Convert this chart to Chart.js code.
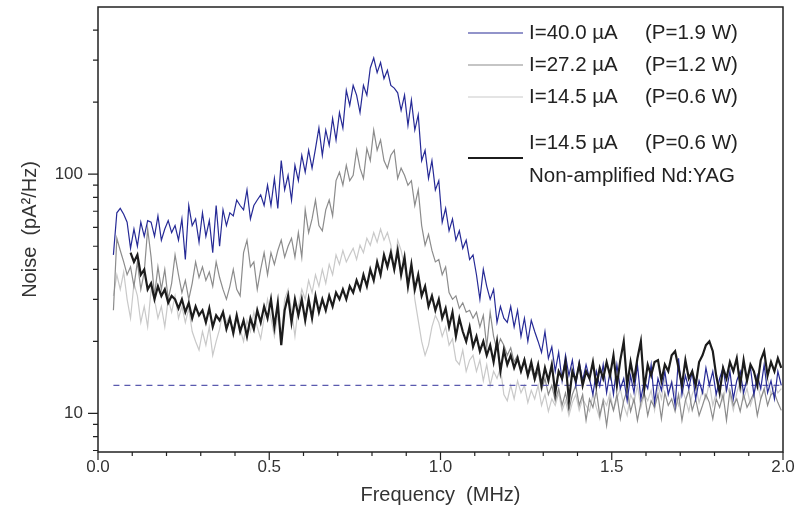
<!DOCTYPE html>
<html>
<head>
<meta charset="utf-8">
<script src="https://cdn.jsdelivr.net/npm/chart.js@4.4.0/dist/chart.umd.min.js"></script>
<style>
  body { margin: 0; background: #fff; }
  #wrap { width: 805px; height: 520px; }
</style>
</head>
<body>
<div id="wrap"><canvas id="c" width="805" height="520"></canvas></div>
<script>
// frequency grid (MHz), one sample every 0.01 MHz
const freq = Array.from({ length: 196 }, (_, i) => +(0.045 + i * 0.01).toFixed(3));

// I = 40.0 uA (P = 1.9 W)
const blue = [
  46, 69, 72, 68, 63, 49, 59, 50, 63, 55,
  64, 63, 55, 67, 53, 59, 64, 57, 61, 53,
  65, 44, 74, 61, 65, 52, 69, 55, 64, 47,
  74, 50, 71, 61, 69, 67, 78, 74, 71, 86,
  65, 74, 78, 82, 74, 90, 74, 96, 72, 114,
  86, 99, 78, 109, 94, 120, 102, 126, 106, 128,
  156, 120, 153, 132, 171, 139, 181, 156, 224, 194,
  235, 214, 181, 235, 214, 278, 306, 266, 293, 251,
  272, 235, 229, 219, 185, 214, 160, 204, 153, 177,
  114, 126, 96, 114, 86, 94, 63, 72, 58, 65,
  53, 58, 49, 53, 44, 46, 38, 30, 40, 34,
  30, 33, 24, 28, 25, 24, 28, 23, 27, 21,
  25, 20, 24.5, 22, 20, 18, 22, 17, 19, 15,
  18, 13.7, 17.5, 14.4, 16.7, 13.1, 16.4, 13.7, 16, 14,
  12, 15, 13, 16, 12.2, 15, 12, 16, 12.7, 14,
  11.3, 14.4, 12.2, 16, 11.5, 13.7, 12.7, 16, 11.1, 14,
  12.5, 15, 12, 13.5, 10.8, 17, 12, 14.4, 12.7, 15,
  11.5, 13.7, 12.2, 15.5, 13.1, 15, 12, 14, 15.5, 12.5,
  15, 11.5, 13.7, 15, 12.2, 14, 15.5, 12, 14.4, 12.7,
  16, 12.2, 13.7, 11.5, 15, 13.1
];

// I = 27.2 uA (P = 1.2 W)
const gray = [
  27, 54, 48, 43, 38, 41, 34, 43, 33, 39,
  59, 45, 31, 41, 33, 40, 30, 35, 46, 38,
  32, 36, 30, 35, 43, 37, 41, 36, 39, 34,
  43, 37, 33, 30, 34, 40, 33, 31, 47, 53,
  41, 43, 33, 40, 47, 38, 47, 42, 48, 53,
  45, 50, 54, 45, 57, 45, 71, 57, 65, 78,
  61, 58, 71, 78, 67, 94, 102, 90, 109, 94,
  99, 126, 106, 96, 128, 114, 153, 126, 139, 114,
  106, 120, 126, 96, 106, 99, 90, 94, 74, 86,
  61, 50.5, 56, 48, 43, 44, 38, 41, 32, 30,
  31, 27.5, 29, 26.5, 27, 25, 26.5, 23, 25.7, 19,
  26.5, 21, 18.4, 20.5, 19.3, 17.5, 18.8, 16.4, 17.5, 15,
  17, 14.4, 15.5, 13.7, 15, 12.5, 14, 12, 13.1, 11.3,
  12.7, 10.8, 12.2, 10.3, 12, 13.1, 10.8, 12, 9.35, 11.5,
  10.6, 12.5, 9.8, 11.3, 8.9, 11.5, 10.3, 12, 9.5, 11.3,
  12.5, 10.2, 11.5, 9.35, 11.1, 12.2, 9.8, 11.3, 10.6, 12,
  9.5, 12.2, 10.8, 11.5, 10.2, 12, 9.35, 11.3, 12.5, 10.3,
  11.5, 9.8, 10.8, 12, 11.1, 9.5, 11.5, 10.6, 12, 9.35,
  12.5, 10.8, 11.5, 10.2, 12, 10.6, 11.3, 12.2, 9.8, 11.5,
  12.7, 10.8, 12, 12.2, 11.1, 10.3
];

// I = 14.5 uA (P = 0.6 W)
const light = [
  31, 38, 33, 39, 30, 25, 35, 31, 24, 28,
  23, 33, 30, 25, 28, 23, 30, 26.5, 31, 25,
  28, 24, 27.5, 22, 20, 18.4, 22, 19.3, 23, 17.5,
  20, 22.5, 27, 24, 25.7, 21, 25, 22.5, 20, 24.5,
  22, 26.5, 23, 20.5, 25, 30, 25, 21, 25.7, 21,
  30, 33, 27, 21, 28, 33, 30, 36, 32, 38,
  34, 40, 35, 42, 38, 46, 42, 48, 43, 46,
  49, 44, 50.5, 47, 54, 50.5, 57, 52, 59, 53,
  57, 50.5, 40, 53, 48, 41, 34, 40, 30, 24.5,
  20, 17.5, 19.3, 23, 25.7, 24, 21, 23, 19.3, 20.5,
  16.7, 16, 18.4, 15, 16.7, 17.5, 15, 16.7, 13.7, 16,
  13.1, 15, 14, 15.5, 12, 11.3, 13.1, 11.5, 13.7, 12.2,
  13.1, 11.1, 12.5, 11.5, 13.1, 10.8, 12, 10.2, 11.5, 10.8,
  12.2, 10.3, 11.3, 9.8, 11.1, 12, 10.3, 11.5, 10.8, 10.2,
  12, 10.6, 9.5, 11.5, 10.8, 12.2, 10.3, 11.5, 12.7, 10.8,
  9.8, 12, 11.1, 13.1, 10.6, 12, 11.3, 12.5, 10.3, 13.1,
  11.5, 14, 12.2, 13.7, 12, 10.8, 12.7, 11.5, 10.2, 12,
  13.1, 11.1, 12.5, 11.5, 13.5, 10.8, 12.2, 12.7, 11.3, 13.1,
  12, 10.3, 12.2, 13.7, 11.5, 12.7, 10.8, 12, 13.5, 11.5,
  12.5, 14, 12, 13.1, 12.2, 12.7
];

// I = 14.5 uA (P = 0.6 W), non-amplified Nd:YAG
const black = [
  null, null, null, null, null, 47, 43, 46, 38, 40,
  33, 35, 30, 34, 31, 33, 29, 31, 30, 27.5,
  30, 26.5, 29, 25, 28, 25.7, 27, 24, 27.5, 23,
  25.7, 24.5, 26.5, 22.5, 25, 21.7, 25.7, 22, 24.5, 21,
  25, 22.5, 27, 24, 28, 25, 30, 23, 29, 19.3,
  27, 31, 24, 30, 25.7, 30, 24.5, 30, 25, 31,
  26.5, 30, 27, 31, 28, 32, 30, 33, 30, 34,
  32, 36, 33, 38, 34, 40, 36, 43, 38, 46,
  41, 47, 40, 48, 38, 45, 34, 42, 33, 38,
  31, 34, 28, 31, 27, 30, 25, 27.5, 23, 26.5,
  21, 25, 22, 20, 23, 19, 21, 18.2, 20, 17.5,
  19.3, 16.4, 20, 15, 18.4, 16, 17.5, 15.5, 17, 15,
  16.7, 14.4, 16.4, 14, 16, 13.1, 15.5, 13.7, 16, 12.2,
  15, 14, 16.4, 11.3, 15, 13.7, 16, 13.1, 15, 14,
  16.4, 13.1, 15.5, 14, 16.4, 14.4, 17.5, 13.1, 16.7, 20,
  13.1, 16.4, 13.7, 17, 20, 12.7, 16, 14.4, 16.4, 16.7,
  13.7, 16, 15, 17.5, 18.2, 15.5, 13.1, 16.7, 14, 15,
  13.1, 16.4, 17.5, 19.3, 20, 18.2, 14.4, 12.2, 15.5, 14,
  16.4, 15, 17, 13.1, 16.7, 13.7, 16, 15, 13.1, 16.7,
  18.2, 14.4, 16.4, 15, 17, 15.5
];

// dashed reference level
const levelFreq = [0.045, 2.0];
const level = [13.1, 13.1];

const xMajor = [0, 0.5, 1.0, 1.5, 2.0];
const xMinor = [0.1, 0.2, 0.3, 0.4, 0.6, 0.7, 0.8, 0.9, 1.1, 1.2, 1.3, 1.4, 1.6, 1.7, 1.8, 1.9];
const yMajor = [10, 100];
const yMinor = [7, 8, 9, 20, 30, 40, 50, 60, 70, 80, 90, 200, 300, 400];

const legendRows = [
  ['I=40.0 \u00b5A', '(P=1.9 W)'],
  ['I=27.2 \u00b5A', '(P=1.2 W)'],
  ['I=14.5 \u00b5A', '(P=0.6 W)'],
  ['I=14.5 \u00b5A', '(P=0.6 W)']
];
const legendNote = 'Non-amplified Nd:YAG';

const COL_BLUE = '#262a96';
const COL_GRAY = '#8c8c8c';
const COL_LIGHT = '#c9c9c9';
const COL_BLACK = '#1c1c1c';
const FONT = '"Liberation Sans", Arial, Helvetica, sans-serif';

function pts(xs, ys) {
  return ys.map((v, i) => ({ x: xs[i], y: v }));
}

const frame = {
  id: 'frame',
  afterDraw(chart) {
    const { ctx, chartArea: a, scales: { x, y } } = chart;
    ctx.save();
    ctx.strokeStyle = '#222';
    ctx.lineWidth = 1.5;
    ctx.strokeRect(a.left, a.top, a.right - a.left, a.bottom - a.top);

    ctx.lineWidth = 1.2;
    ctx.beginPath();
    xMajor.forEach(v => { const p = x.getPixelForValue(v); ctx.moveTo(p, a.bottom); ctx.lineTo(p, a.bottom + 8); });
    xMinor.forEach(v => { const p = x.getPixelForValue(v); ctx.moveTo(p, a.bottom); ctx.lineTo(p, a.bottom + 4); });
    yMajor.forEach(v => { const p = y.getPixelForValue(v); ctx.moveTo(a.left, p); ctx.lineTo(a.left - 10, p); });
    yMinor.forEach(v => { const p = y.getPixelForValue(v); ctx.moveTo(a.left, p); ctx.lineTo(a.left - 5, p); });
    ctx.stroke();

    // legend
    const colors = [COL_BLUE, COL_GRAY, COL_LIGHT, COL_BLACK];
    const rowY = [33, 65, 97, 143];
    ctx.font = '20.5px ' + FONT;
    ctx.fillStyle = '#222';
    ctx.textBaseline = 'middle';
    legendRows.forEach((r, i) => {
      const ly = i === 3 ? 158 : rowY[i];
      ctx.strokeStyle = colors[i];
      ctx.lineWidth = i === 3 ? 2.2 : 1.2;
      ctx.beginPath();
      ctx.moveTo(468, ly);
      ctx.lineTo(523, ly);
      ctx.stroke();
      ctx.fillText(r[0], 529, rowY[i]);
      ctx.fillText(r[1], 645, rowY[i]);
    });
    ctx.fillText(legendNote, 529, 176);
    ctx.restore();
  }
};

new Chart(document.getElementById('c'), {
  type: 'line',
  data: {
    datasets: [
      { label: 'black', data: pts(freq, black), borderColor: COL_BLACK, borderWidth: 2.2 },
      { label: 'blue', data: pts(freq, blue), borderColor: COL_BLUE, borderWidth: 1.2 },
      { label: 'level', data: pts(levelFreq, level), borderColor: '#5a5aae', borderWidth: 1.2, borderDash: [6, 5] },
      { label: 'gray', data: pts(freq, gray), borderColor: COL_GRAY, borderWidth: 1.2 },
      { label: 'light', data: pts(freq, light), borderColor: COL_LIGHT, borderWidth: 1.2 }
    ]
  },
  options: {
    responsive: false,
    animation: false,
    layout: { padding: { top: 7, right: 22, left: 0, bottom: 0 } },
    elements: {
      point: { radius: 0 },
      line: { tension: 0, fill: false }
    },
    plugins: {
      legend: { display: false },
      tooltip: { enabled: false }
    },
    scales: {
      x: {
        type: 'linear',
        min: 0,
        max: 2,
        afterBuildTicks: s => { s.ticks = xMajor.map(v => ({ value: v })); },
        afterFit: s => { s.height = 68; s.paddingLeft = 0; s.paddingRight = 0; },
        grid: { display: false, drawTicks: false },
        border: { display: false },
        ticks: {
          padding: 5,
          color: '#333',
          font: { family: FONT, size: 17 },
          maxRotation: 0,
          callback: v => v.toFixed(1)
        },
        title: {
          display: true,
          text: 'Frequency  (MHz)',
          color: '#333',
          font: { family: FONT, size: 20 },
          padding: { top: 0, bottom: 13 }
        }
      },
      y: {
        type: 'logarithmic',
        min: 6.9,
        max: 500,
        afterBuildTicks: s => { s.ticks = yMajor.map(v => ({ value: v })); },
        afterFit: s => { s.width = 98; s.paddingTop = 0; s.paddingBottom = 0; },
        grid: { display: false, drawTicks: false },
        border: { display: false },
        ticks: {
          padding: 15,
          color: '#333',
          font: { family: FONT, size: 17 },
          callback: v => String(v)
        },
        title: {
          display: true,
          text: 'Noise  (pA\u00b2/Hz)',
          color: '#333',
          font: { family: FONT, size: 20 },
          padding: { top: 18, bottom: 0 }
        }
      }
    }
  },
  plugins: [frame]
});
</script>
</body>
</html>
